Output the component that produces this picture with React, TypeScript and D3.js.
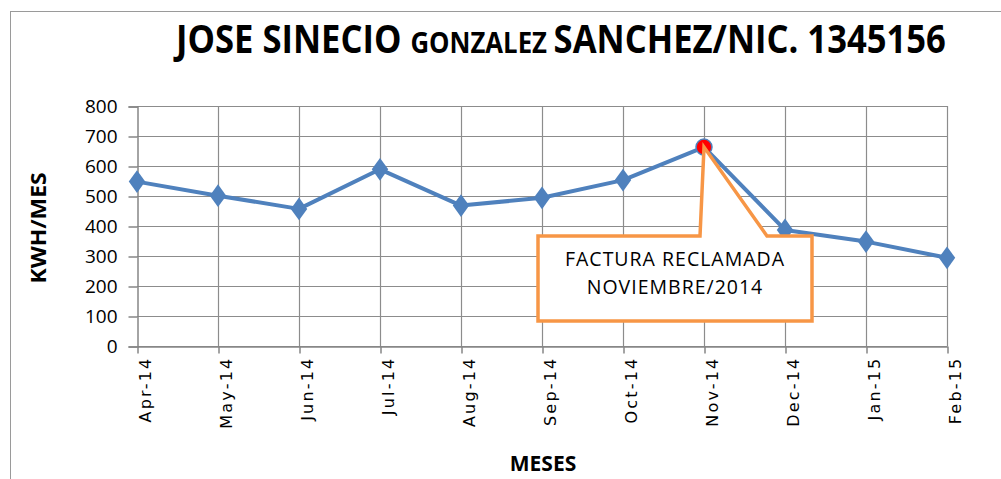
import React, { useRef, useEffect } from 'react';
import * as d3 from 'd3';

const months = ['Apr-14', 'May-14', 'Jun-14', 'Jul-14', 'Aug-14', 'Sep-14', 'Oct-14', 'Nov-14', 'Dec-14', 'Jan-15', 'Feb-15'];
const kwh = [548, 501, 457, 589, 468, 494, 553, 663, 387, 348, 294];
const yTicks = [0, 100, 200, 300, 400, 500, 600, 700, 800];
const highlighted = 'Nov-14';
const calloutLines = ['FACTURA RECLAMADA', 'NOVIEMBRE/2014'];

export default function App() {
  const svgRef = useRef<SVGSVGElement>(null);

  useEffect(() => {
    const w = 1001;
    const h = 479;
    const svg = d3.select(svgRef.current).attr('width', w).attr('height', h);
    svg.selectAll('*').remove();

    // chart frame
    svg.append('rect')
      .attr('x', 10.5).attr('y', 11.5)
      .attr('width', 1000).attr('height', 500)
      .attr('fill', 'white').attr('stroke', '#9a9a9a');

    // title - squeezed horizontally to look like a condensed face
    const titleG = svg.append('g');
    const title = titleG.append('text')
      .attr('x', 0).attr('y', 0)
      .attr('font-family', 'Open Sans, sans-serif')
      .attr('font-weight', 'bold')
      .attr('fill', '#000');
    title.append('tspan').attr('font-size', 39).text('JOSE SINECIO ');
    title.append('tspan').attr('font-size', 29).text('GONZALEZ ');
    title.append('tspan').attr('font-size', 39).text('SANCHEZ/NIC. 1345156');
    const tw = (title.node() as SVGTextElement).getComputedTextLength() || 770;
    titleG.attr('transform', `translate(176,53) scale(${770 / tw},1)`);

    const x = d3.scalePoint<string>().domain(months).range([137, 947]);
    const y = d3.scaleLinear().domain([0, 800]).range([346, 106]);

    const grid = svg.append('g');
    grid.selectAll('.hg')
      .data(yTicks)
      .join('line')
      .attr('x1', 137).attr('x2', 947)
      .attr('y1', d => y(d) + 0.5).attr('y2', d => y(d) + 0.5)
      .attr('stroke', '#8c8c8c').attr('stroke-width', 1.2);
    grid.selectAll('.vg')
      .data(months.slice(1))
      .join('line')
      .attr('x1', d => x(d)! + 0.5).attr('x2', d => x(d)! + 0.5)
      .attr('y1', 106).attr('y2', 346)
      .attr('stroke', '#8c8c8c').attr('stroke-width', 1.2);

    // y axis
    const yAxis = d3.axisLeft(y).tickValues(yTicks).tickSize(9).tickPadding(11);
    const ya = svg.append('g').attr('transform', 'translate(137.5,0.5)').call(yAxis);
    ya.select('.domain').attr('stroke', '#868686').attr('stroke-width', 1.5);
    ya.selectAll('.tick line').attr('stroke', '#868686').attr('stroke-width', 1.5);
    ya.selectAll('.tick text')
      .attr('font-family', 'Open Sans, sans-serif')
      .attr('font-size', 19)
      .attr('fill', '#000');

    // x axis
    const xAxis = d3.axisBottom(x).tickSize(7).tickSizeOuter(0).tickPadding(8);
    const xa = svg.append('g').attr('transform', 'translate(0.5,346.5)').call(xAxis);
    xa.select('.domain').attr('stroke', '#868686').attr('stroke-width', 1.5);
    xa.selectAll('.tick line').attr('stroke', '#868686').attr('stroke-width', 1.5);
    xa.selectAll('.tick text')
      .attr('font-family', 'DejaVu Sans, sans-serif')
      .attr('font-size', 16)
      .attr('letter-spacing', 2.2)
      .attr('fill', '#000')
      .attr('text-anchor', 'end')
      .attr('transform', 'translate(7,10) rotate(-90)')
      .attr('x', 0).attr('y', 0).attr('dy', '0.35em');

    // axis titles
    svg.append('text')
      .attr('transform', 'translate(46,228) rotate(-90)')
      .attr('text-anchor', 'middle')
      .attr('font-family', 'Open Sans, sans-serif')
      .attr('font-weight', 'bold')
      .attr('font-size', 22)
      .attr('textLength', 111)
      .attr('lengthAdjust', 'spacingAndGlyphs')
      .text('KWH/MES');
    svg.append('text')
      .attr('x', 543).attr('y', 471)
      .attr('text-anchor', 'middle')
      .attr('font-family', 'Open Sans, sans-serif')
      .attr('font-weight', 'bold')
      .attr('font-size', 21)
      .text('MESES');

    // series
    const line = d3.line<number>()
      .x((d, i) => x(months[i])!)
      .y(d => y(d));
    svg.append('path')
      .datum(kwh)
      .attr('d', line)
      .attr('fill', 'none')
      .attr('stroke', '#4F81BD')
      .attr('stroke-width', 4)
      .attr('stroke-linejoin', 'round');

    const diamond = d3.symbol().type(d3.symbolDiamond).size(150);
    svg.selectAll('.mk')
      .data(kwh.map((v, i) => ({ m: months[i], v })).filter(d => d.m !== highlighted))
      .join('path')
      .attr('d', diamond)
      .attr('transform', d => `translate(${x(d.m)},${y(d.v)}) scale(1.25,1)`)
      .attr('fill', '#4F81BD');

    const hi = months.indexOf(highlighted);
    const hx = x(highlighted)!;
    const hy = y(kwh[hi]);
    svg.append('circle')
      .attr('cx', hx).attr('cy', hy).attr('r', 8)
      .attr('fill', '#FF0000')
      .attr('stroke', '#4F81BD').attr('stroke-width', 1.5);

    // callout
    const bx0 = 538, bx1 = 812, by0 = 236, by1 = 321;
    const callout = d3.path();
    callout.moveTo(bx0, by0);
    callout.lineTo(hx - 4, by0);
    callout.lineTo(hx, hy);
    callout.lineTo(hx + 63, by0);
    callout.lineTo(bx1, by0);
    callout.lineTo(bx1, by1);
    callout.lineTo(bx0, by1);
    callout.closePath();
    svg.append('path')
      .attr('d', callout.toString())
      .attr('fill', 'white')
      .attr('stroke', '#F79646')
      .attr('stroke-width', 3.5)
      .attr('stroke-linejoin', 'miter');

    svg.selectAll('.cl')
      .data(calloutLines)
      .join('text')
      .attr('x', (bx0 + bx1) / 2)
      .attr('y', (d, i) => 266 + i * 28)
      .attr('text-anchor', 'middle')
      .attr('font-family', 'Open Sans, sans-serif')
      .attr('font-size', 19.5)
      .attr('letter-spacing', 1)
      .attr('fill', '#000')
      .text(d => d);
  }, []);

  return (
    <div style={{ position: 'absolute', left: 0, top: 0 }}>
      <svg ref={svgRef} style={{ display: 'block' }}></svg>
    </div>
  );
}
